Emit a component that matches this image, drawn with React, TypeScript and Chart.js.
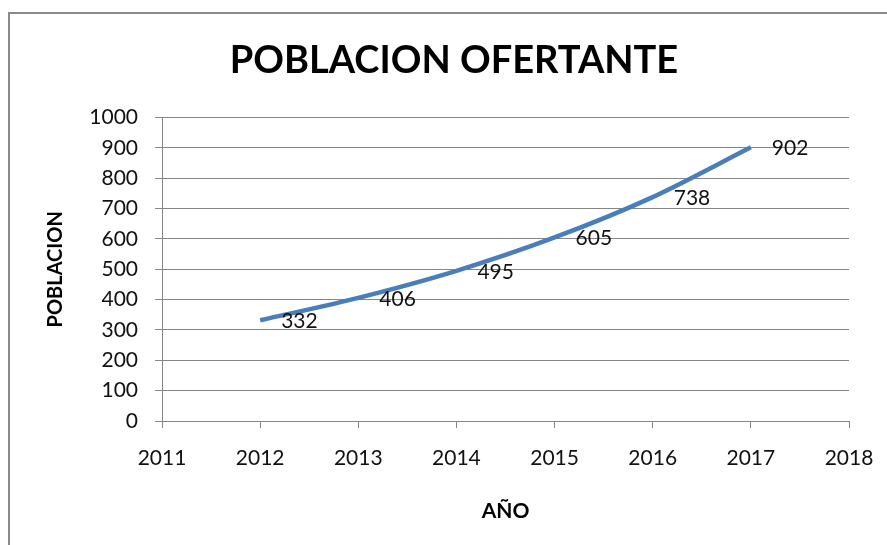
import React, { useEffect, useRef } from 'react';
import { Chart, registerables } from 'chart.js';

Chart.register(...registerables);

// ---- Data ----
const years = [2012, 2013, 2014, 2015, 2016, 2017];
const poblacion = [332, 406, 495, 605, 738, 902];
const xMin = 2011;
const xMax = 2018;
const yMin = 0;
const yMax = 1000;
const yStep = 100;
const chartTitle = 'POBLACION OFERTANTE';
const yTitle = 'POBLACION';
const xTitle = 'AÑO';

const FONT = 'Lato, "Open Sans", sans-serif';
const GRID = '#868686';
const TEXT = '#111111';
const LINE = '#4a7ebb';

const borderPlugin = {
  id: 'outerBorder',
  beforeDraw(chart: any) {
    const ctx = chart.ctx;
    ctx.save();
    ctx.strokeStyle = '#8a8a8a';
    ctx.lineWidth = 2;
    ctx.strokeRect(9, 13, 1200, 1200);
    ctx.restore();
  },
};

const titleShiftPlugin = {
  id: 'titleShift',
  afterLayout(chart: any) {
    const tb = chart.titleBlock;
    if (tb) {
      tb.left = 0;
      tb.right = 908;
    }
  },
};

const dataLabelsPlugin = {
  id: 'dataLabels',
  afterDatasetsDraw(chart: any) {
    const ctx = chart.ctx;
    const meta = chart.getDatasetMeta(0);
    const values = chart.data.datasets[0].data;
    ctx.save();
    ctx.font = `21px ${FONT}`;
    ctx.fillStyle = TEXT;
    ctx.textAlign = 'left';
    ctx.textBaseline = 'middle';
    meta.data.forEach((pt: any, i: number) => {
      const v = values[i];
      ctx.fillText(String(v.y), pt.x + 21, pt.y + 1);
    });
    ctx.restore();
  },
};

export default function App() {
  const ref = useRef<HTMLCanvasElement | null>(null);

  useEffect(() => {
    if (!ref.current) return;
    const chart = new Chart(ref.current, {
      type: 'line',
      data: {
        datasets: [
          {
            label: yTitle,
            data: years.map((y, i) => ({ x: y, y: poblacion[i] })),
            borderColor: LINE,
            backgroundColor: LINE,
            borderWidth: 4.5,
            pointRadius: 0,
            tension: 0.3,
            fill: false,
          },
        ],
      },
      options: {
        responsive: false,
        animation: false,
        layout: { padding: { left: 0, right: 38, top: 0, bottom: 0 } },
        plugins: {
          legend: { display: false },
          tooltip: { enabled: false },
          title: {
            display: true,
            text: chartTitle,
            color: '#000',
            font: { family: FONT, size: 38, weight: 'bold', lineHeight: 1.2 },
            padding: { top: 38, bottom: 34 },
          },
        },
        scales: {
          x: {
            type: 'linear',
            min: xMin,
            max: xMax,
            afterFit(scale: any) {
              scale.height = 124;
              scale.paddingRight = 0;
              scale.paddingLeft = 0;
            },
            ticks: {
              stepSize: 1,
              color: TEXT,
              padding: 18,
              maxRotation: 0,
              font: { family: FONT, size: 21 },
              callback: (v: any) => String(v),
            },
            grid: {
              display: true,
              drawOnChartArea: false,
              drawTicks: true,
              tickLength: 7,
              color: GRID,
            },
            border: { display: true, color: GRID },
            title: {
              display: true,
              text: xTitle,
              color: '#000',
              font: { family: FONT, size: 21, weight: 'bold', lineHeight: 1.2 },
              padding: { top: 0, bottom: 21 },
            },
          },
          y: {
            min: yMin,
            max: yMax,
            afterFit(scale: any) {
              scale.width = 162;
            },
            ticks: {
              stepSize: yStep,
              color: TEXT,
              padding: 17,
              font: { family: FONT, size: 21 },
              callback: (v: any) => String(v),
            },
            grid: {
              color: GRID,
              tickLength: 7,
              drawTicks: true,
            },
            border: { display: true, color: GRID },
            title: {
              display: true,
              text: yTitle,
              color: '#000',
              font: { family: FONT, size: 20, weight: 'bold', lineHeight: 1.2 },
              padding: { top: 44, bottom: 0 },
            },
          },
        },
      },
      plugins: [borderPlugin, titleShiftPlugin, dataLabelsPlugin],
    } as any);
    return () => chart.destroy();
  }, []);

  return (
    <div style={{ position: 'fixed', left: 0, top: 0, width: 887, height: 545, background: '#fff' }}>
      <canvas ref={ref} width={887} height={545} style={{ display: 'block' }} />
    </div>
  );
}
